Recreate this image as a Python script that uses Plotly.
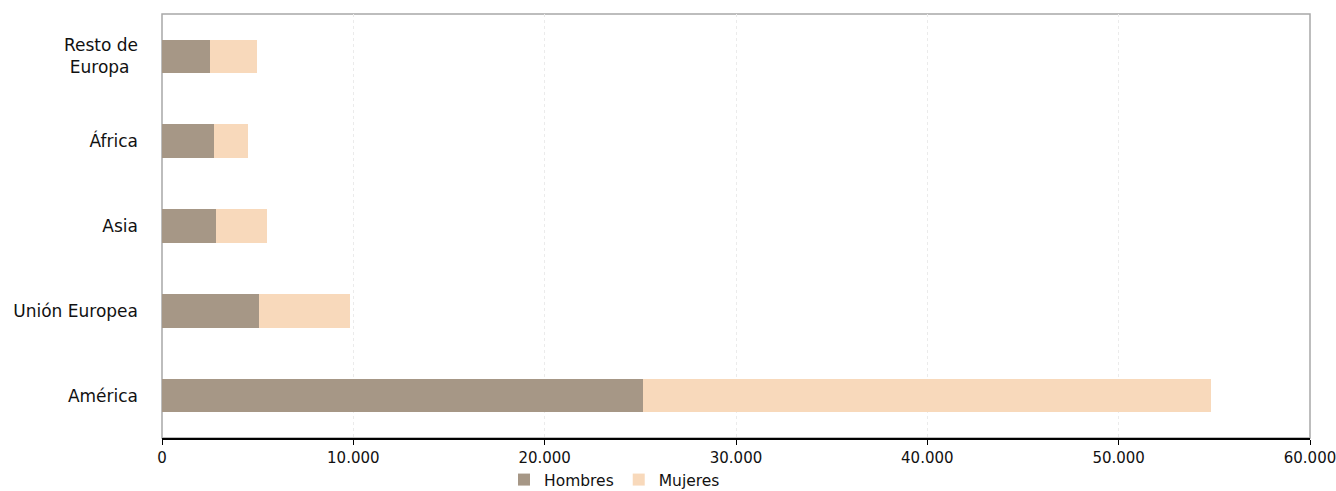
import plotly.graph_objects as go

categories = ["América", "Unión Europea", "Asia", "África", "Resto de<br>Europa\u2002"]
hombres = [25160, 5070, 2820, 2700, 2510]
mujeres = [29650, 4760, 2660, 1820, 2440]
x_ticks = [0, 10000, 20000, 30000, 40000, 50000, 60000]

C_H = "#A69786"
C_M = "#F8D9BB"
FONT = "DejaVu Sans, Liberation Sans, Arial, sans-serif"

fig = go.Figure()
fig.add_trace(go.Bar(y=categories, x=hombres, name="Hombres", orientation="h",
                     marker=dict(color=C_H, line=dict(width=0))))
fig.add_trace(go.Bar(y=categories, x=mujeres, name="Mujeres", orientation="h",
                     marker=dict(color=C_M, line=dict(width=0))))

fig.update_layout(
    autosize=False,
    barmode="stack",
    bargap=0.605,
    width=1336, height=491,
    margin=dict(l=162, r=26, t=14, b=53),
    paper_bgcolor="white", plot_bgcolor="white",
    separators=",.",
    font=dict(family=FONT, color="#111111"),
    legend=dict(orientation="h", xref="container", yref="container",
                x=504 / 1336, xanchor="left", y=1 - 480 / 491, yanchor="middle",
                font=dict(size=15.5), itemwidth=30, traceorder="normal"),
    showlegend=True,
    shapes=[dict(type="rect", xref="paper", yref="paper", x0=0, x1=1, y0=0, y1=1,
                 line=dict(color="#A8A8A8", width=1.5), layer="below")],
)
fig.update_xaxes(range=[0, 60000], tickvals=x_ticks, tickformat=",.0f",
                 showgrid=True, gridcolor="#EBEBEB", gridwidth=1, griddash="dot",
                 showline=True, linecolor="black", linewidth=1.5,
                 ticks="outside", ticklen=5, tickcolor="black",
                 tickfont=dict(size=15), zeroline=False, automargin=False,
                 ticklabeloverflow="allow")
fig.update_yaxes(showgrid=False, ticks="", tickfont=dict(size=17), ticklabelstandoff=23,
                 zeroline=False, showline=False, automargin=False)

fig.write_html("out.html",
               config={"responsive": False, "displayModeBar": False},
               post_script="document.body.style.margin='0';document.body.style.overflow='hidden';")
